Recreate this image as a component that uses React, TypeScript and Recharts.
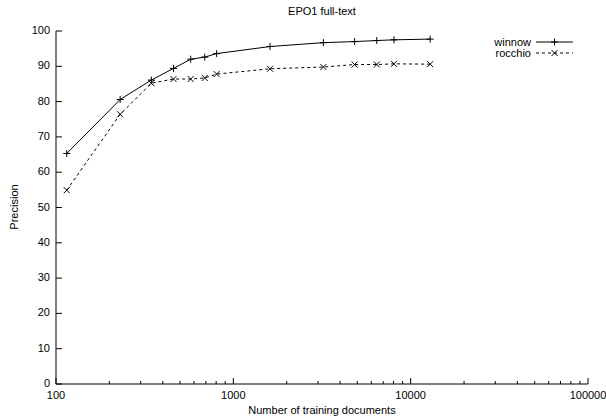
import { LineChart, Line, XAxis, YAxis } from 'recharts';

const docs = [115, 230, 345, 460, 575, 690, 805, 1610, 3220, 4830, 6440, 8050, 12880];
const winnow = [65.3, 80.6, 86.1, 89.4, 92.0, 92.6, 93.6, 95.6, 96.7, 97.0, 97.3, 97.5, 97.7];
const rocchio = [54.9, 76.4, 85.2, 86.4, 86.4, 86.7, 87.8, 89.3, 89.8, 90.5, 90.5, 90.7, 90.6];

const decades = [100, 1000, 10000, 100000];
const yTicks = [0, 10, 20, 30, 40, 50, 60, 70, 80, 90, 100];

const xTicks: number[] = [];
decades.slice(0, 3).forEach((d) => {
  for (let k = 1; k <= 9; k++) xTicks.push(d * k);
});
xTicks.push(100000);

const data = docs.map((d, i) => ({ docs: d, winnow: winnow[i], rocchio: rocchio[i] }));

const font = 'Liberation Sans, Arial, sans-serif';

const isMajor = (v: number) => decades.includes(v);

function BottomTick({ x, y, payload }: any) {
  const major = isMajor(payload.value);
  return (
    <g>
      <line x1={x} y1={y} x2={x} y2={y - (major ? 6 : 3)} stroke="#000" />
      {major && (
        <text x={x} y={y + 15} textAnchor="middle" fontSize={11} fontFamily={font} fill="#000">
          {payload.value}
        </text>
      )}
    </g>
  );
}

function TopTick({ x, y, payload }: any) {
  const major = isMajor(payload.value);
  return <line x1={x} y1={y} x2={x} y2={y + (major ? 6 : 3)} stroke="#000" />;
}

function LeftTick({ x, y, payload }: any) {
  return (
    <g>
      <line x1={x} y1={y} x2={x + 6} y2={y} stroke="#000" />
      <text x={x - 6} y={y + 3} textAnchor="end" fontSize={11} fontFamily={font} fill="#000">
        {payload.value}
      </text>
    </g>
  );
}

function RightTick({ x, y }: any) {
  return <line x1={x} y1={y} x2={x - 6} y2={y} stroke="#000" />;
}

function PlusDot({ cx, cy }: any) {
  return (
    <g stroke="#000" strokeWidth={1}>
      <line x1={cx - 3.5} y1={cy} x2={cx + 3.5} y2={cy} />
      <line x1={cx} y1={cy - 3.5} x2={cx} y2={cy + 3.5} />
    </g>
  );
}

function CrossDot({ cx, cy }: any) {
  return (
    <g stroke="#000" strokeWidth={1}>
      <line x1={cx - 3} y1={cy - 3} x2={cx + 3} y2={cy + 3} />
      <line x1={cx - 3} y1={cy + 3} x2={cx + 3} y2={cy - 3} />
    </g>
  );
}

export default function App() {
  return (
    <div style={{ position: 'absolute', left: 0, top: 0, width: 606, height: 419, background: '#fff' }}>
      <LineChart width={606} height={419} data={data} margin={{ top: 31, right: 18, bottom: 0, left: 0 }}>
        <XAxis
          dataKey="docs"
          type="number"
          scale="log"
          domain={[100, 100000]}
          ticks={xTicks}
          interval={0}
          tickSize={0}
          tickMargin={0}
          tick={<BottomTick />}
          axisLine={{ stroke: '#000' }}
          height={35}
        />
        <XAxis
          xAxisId="top"
          dataKey="docs"
          type="number"
          scale="log"
          orientation="top"
          domain={[100, 100000]}
          ticks={xTicks}
          interval={0}
          tickSize={0}
          tickMargin={0}
          tick={<TopTick />}
          axisLine={{ stroke: '#000' }}
          height={0}
        />
        <YAxis
          domain={[0, 100]}
          ticks={yTicks}
          interval={0}
          tickSize={0}
          tickMargin={0}
          tick={<LeftTick />}
          axisLine={{ stroke: '#000' }}
          width={56}
        />
        <YAxis
          yAxisId="right"
          orientation="right"
          domain={[0, 100]}
          ticks={yTicks}
          interval={0}
          tickSize={0}
          tickMargin={0}
          tick={<RightTick />}
          axisLine={{ stroke: '#000' }}
          width={0}
        />
        <Line
          dataKey="winnow"
          type="linear"
          stroke="#000"
          strokeWidth={1}
          dot={<PlusDot />}
          activeDot={false}
          isAnimationActive={false}
        />
        <Line
          dataKey="rocchio"
          type="linear"
          stroke="#000"
          strokeWidth={1}
          strokeDasharray="3 3"
          dot={<CrossDot />}
          activeDot={false}
          isAnimationActive={false}
        />
      </LineChart>
      <svg style={{ position: 'absolute', left: 0, top: 0 }} width={606} height={419} pointerEvents="none">
        <text x={322} y={15} textAnchor="middle" fontSize={11} fontFamily={font}>EPO1 full-text</text>
        <text x={322} y={414} textAnchor="middle" fontSize={11} fontFamily={font}>Number of training documents</text>
        <text x={18} y={207} textAnchor="middle" fontSize={11} fontFamily={font} transform="rotate(-90 18 207)">
          Precision
        </text>
        <text x={531} y={46} textAnchor="end" fontSize={11} fontFamily={font}>winnow</text>
        <line x1={536} y1={42} x2={573} y2={42} stroke="#000" />
        <PlusDot cx={554.5} cy={42} />
        <text x={531} y={57} textAnchor="end" fontSize={11} fontFamily={font}>rocchio</text>
        <line x1={536} y1={53} x2={573} y2={53} stroke="#000" strokeDasharray="3 3" />
        <CrossDot cx={554.5} cy={53} />
      </svg>
    </div>
  );
}
